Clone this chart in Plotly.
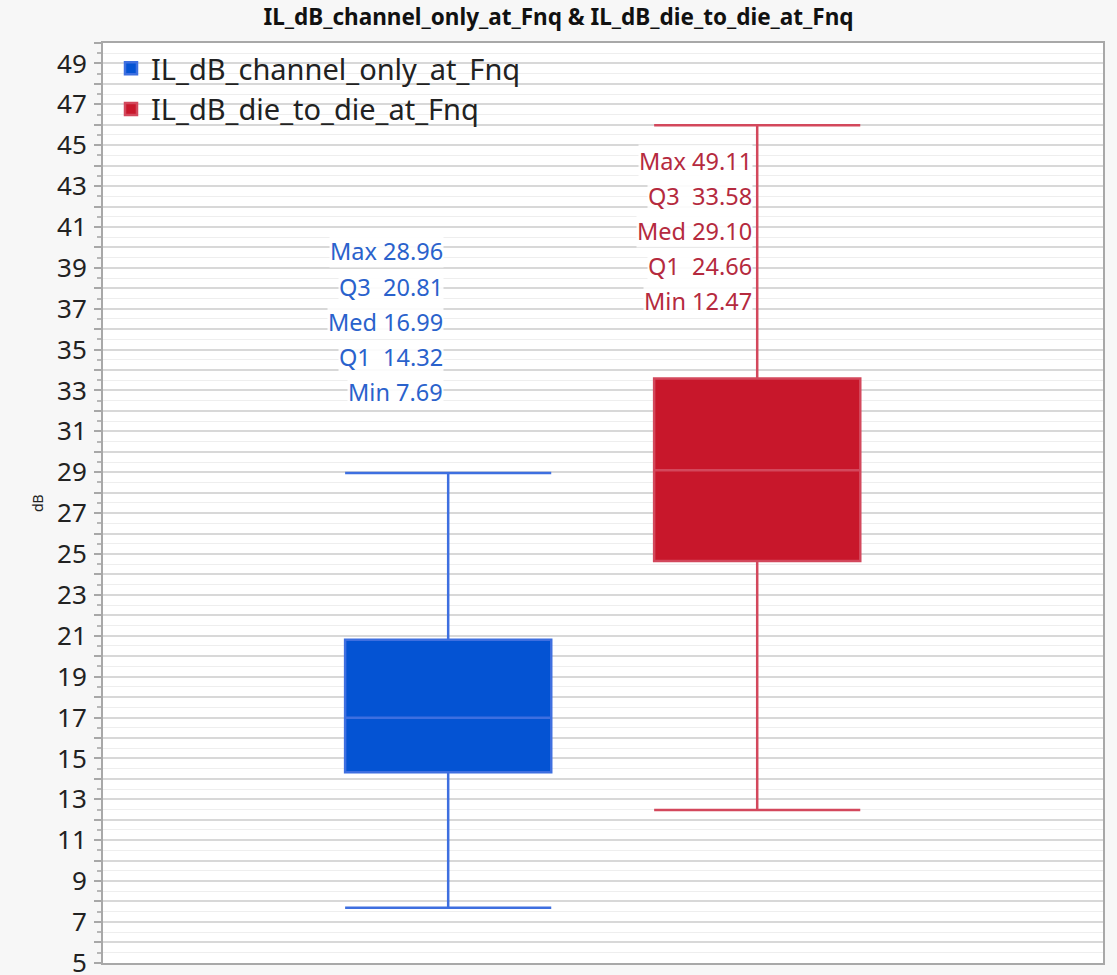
import plotly.graph_objects as go

# ---- data ----
series_names = ["IL_dB_channel_only_at_Fnq", "IL_dB_die_to_die_at_Fnq"]
positions = [0, 1]
q1_vals = [14.32, 24.66]
median_vals = [16.99, 29.10]
q3_vals = [20.81, 33.58]
min_vals = [7.69, 12.47]
max_vals = [28.96, 49.11]
# whisker tops as drawn in the picture
whisker_top = [28.96, 45.97]
stat_labels = ["Max", "Q3 ", "Med", "Q1 ", "Min"]

fill_colors = ["#0453d3", "#c8172b"]
line_colors = ["#3e6fe0", "#d3485c"]
text_colors = ["#2a62cc", "#b52a3e"]

# label block placement (data units)
label_top = [39.8, 44.25]
label_step = 1.72
label_x_offset = 0.015

FONT = "Noto Sans"

fig = go.Figure()
for i in range(2):
    fig.add_trace(go.Box(
        name=series_names[i],
        x=[positions[i]],
        q1=[q1_vals[i]], median=[median_vals[i]], q3=[q3_vals[i]],
        lowerfence=[min_vals[i]], upperfence=[whisker_top[i]],
        width=0.667, whiskerwidth=1,
        fillcolor=fill_colors[i],
        line=dict(color=line_colors[i], width=2.5),
        boxpoints=False,
        showlegend=True,
    ))

annotations = []
for i in range(2):
    vals = [max_vals[i], q3_vals[i], median_vals[i], q1_vals[i], min_vals[i]]
    for k, (lab, v) in enumerate(zip(stat_labels, vals)):
        annotations.append(dict(
            x=positions[i] - label_x_offset, xref="x",
            y=label_top[i] - k * label_step, yref="y",
            text=f"{lab} {v:.2f}", showarrow=False,
            xanchor="right", yanchor="middle",
            font=dict(family=FONT, size=23.5, color=text_colors[i]),
            bgcolor="rgba(255,255,255,0.9)", borderpad=0,
        ))

annotations.append(dict(
    x=0, xref="paper", xshift=-66, y=0.5, yref="paper",
    text="dB", showarrow=False, textangle=-90,
    xanchor="center", yanchor="middle",
    font=dict(family=FONT, size=14, color="#222222"),
))

tick_vals = list(range(5, 51))
tick_text = [str(v) if v % 2 == 1 else "" for v in tick_vals]

fig.update_layout(
    width=1117, height=975,
    margin=dict(l=103, r=14, t=43, b=12, autoexpand=False),
    paper_bgcolor="#f7f7f7",
    plot_bgcolor="#ffffff",
    title=dict(
        text="<b>IL_dB_channel_only_at_Fnq & IL_dB_die_to_die_at_Fnq</b>",
        x=0.5, xref="container", xanchor="center",
        y=1, yref="container", yanchor="top", pad=dict(t=9),
        font=dict(family=FONT, size=22.5, color="#111111"),
    ),
    legend=dict(
        x=0.008, y=1.0, xanchor="left", yanchor="top",
        bgcolor="rgba(0,0,0,0)",
        font=dict(family=FONT, size=29, color="#222222"),
        itemwidth=30, tracegroupgap=0,
    ),
    xaxis=dict(
        range=[-1.117, 2.119], showticklabels=False, showgrid=False,
        zeroline=False, ticks="", automargin=False,
        showline=True, linecolor="#a8a8a8", linewidth=2, mirror=True,
    ),
    yaxis=dict(
        range=[4.99, 50], tickmode="array", tickvals=tick_vals, ticktext=tick_text,
        ticks="outside", ticklen=7, tickcolor="#a8a8a8", tickwidth=1.5,
        showgrid=True, gridcolor="#d8d8d8", gridwidth=1.5,
        minor=dict(dtick=0.5, tick0=5, ticks="outside", ticklen=4,
                   tickcolor="#b8b8b8", showgrid=True, gridcolor="#eeeeee", gridwidth=1),
        zeroline=False, automargin=False,
        showline=True, linecolor="#a8a8a8", linewidth=2, mirror=True,
        tickfont=dict(family=FONT, size=26, color="#222222"),
        ticklabelstandoff=2, ticklabeloverflow="allow",
    ),
    annotations=annotations,
    boxmode="overlay",
)

fig.write_html("out.html")
